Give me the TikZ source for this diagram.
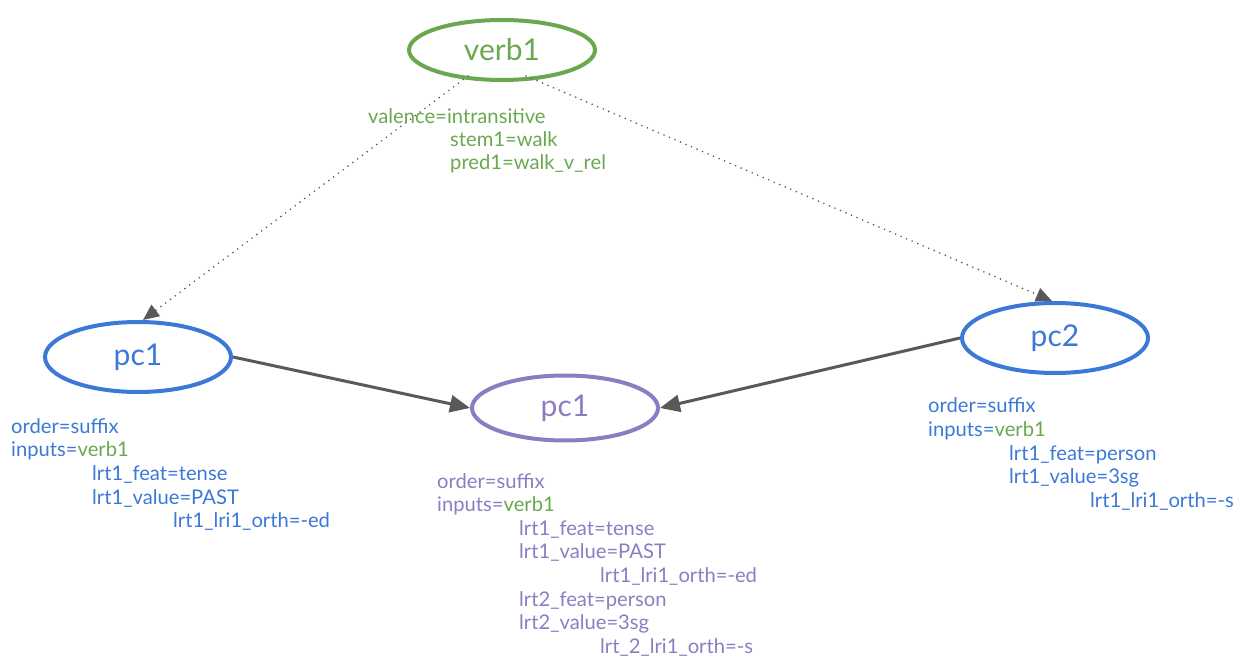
\documentclass[tikz,border=0pt]{standalone}
\usepackage{fontspec}
\setmainfont{Lato}
\usetikzlibrary{arrows.meta,calc,shapes.geometric}
\definecolor{cgreen}{HTML}{6AA84F}
\definecolor{cblue}{HTML}{3C78D8}
\definecolor{cpurple}{HTML}{8E7CC3}
\definecolor{cgray}{HTML}{595959}
\begin{document}
\begin{tikzpicture}[x=1pt,y=-1pt,
  blob/.style={ellipse,draw,line width=4pt,inner sep=0pt,minimum width=186pt,font=\fontsize{30}{33}\selectfont},
  lab/.style={anchor=base west,inner sep=0pt,font=\fontsize{20.2}{24}\selectfont},
  solidarrow/.style={draw=cgray,line width=3pt,-{Triangle[length=20pt,width=17pt]}},
  dotarrow/.style={draw=cgray,line width=1.8pt,line cap=round,dash pattern=on 0pt off 6pt,-{Triangle[length=16pt,width=14pt]}}]
\useasboundingbox (0,0) rectangle (1243,660);
\node[blob,draw=cgreen,text=cgreen,minimum height=60pt] (verb1) at (502,50) {verb1};
\node[blob,draw=cblue,text=cblue,minimum height=70pt] (pc1) at (138,357) {pc1};
\node[blob,draw=cpurple,text=cpurple,minimum height=65pt] (pc1b) at (565,408) {pc1};
\node[blob,draw=cblue,text=cblue,minimum height=70pt] (pc2) at (1055,338) {pc2};
\coordinate (v1l) at ($(verb1)+(-34,26)$);
\coordinate (v1r) at ($(verb1)+(24,26)$);
\draw[dotarrow] (v1l) -- ($(pc1.north)+(5,0)$);
\draw[dotarrow] (v1r) -- ($(pc2.north)+(-3,0)$);
\draw[solidarrow] (pc1.east) -- (pc1b.west);
\draw[solidarrow] (pc2.west) -- (pc1b.east);
% verb1 labels
\begin{scope}[text=cgreen]
\node[lab] (v1a) at (368,123.3) {valence=intransitive};
\node[lab] (v1b) at (450,146.7) {stem1=walk};
\node[lab] (v1c) at (450,170) {pred1=walk\_v\_rel};
\end{scope}
% pc1 labels
\begin{scope}[text=cblue]
\node[lab] (pa1) at (11,433) {order=suffix};
\node[lab] (pa2) at (11,456.7) {inputs=\textcolor{cgreen}{verb1}};
\node[lab] (pa3) at (92,480.3) {lrt1\_feat=tense};
\node[lab] (pa4) at (92,504) {lrt1\_value=PAST};
\node[lab] (pa5) at (173,527.7) {lrt1\_lri1\_orth=-ed};
\end{scope}
% purple labels
\begin{scope}[text=cpurple]
\node[lab] (pb1) at (437,488) {order=suffix};
\node[lab] (pb2) at (437,511.6) {inputs=\textcolor{cgreen}{verb1}};
\node[lab] (pb3) at (519,535.2) {lrt1\_feat=tense};
\node[lab] (pb4) at (519,558.8) {lrt1\_value=PAST};
\node[lab] (pb5) at (600,582.4) {lrt1\_lri1\_orth=-ed};
\node[lab] (pb6) at (519,606) {lrt2\_feat=person};
\node[lab] (pb7) at (519,629.6) {lrt2\_value=3sg};
\node[lab] (pb8) at (600,653.2) {lrt\_2\_lri1\_orth=-s};
\end{scope}
% pc2 labels
\begin{scope}[text=cblue]
\node[lab] (pc1l) at (928,412.7) {order=suffix};
\node[lab] (pc2l) at (928,436.3) {inputs=\textcolor{cgreen}{verb1}};
\node[lab] (pc3l) at (1009,460) {lrt1\_feat=person};
\node[lab] (pc4l) at (1009,483.6) {lrt1\_value=3sg};
\node[lab] (pc5l) at (1090,507.2) {lrt1\_lri1\_orth=-s};
\end{scope}
\end{tikzpicture}
\end{document}
